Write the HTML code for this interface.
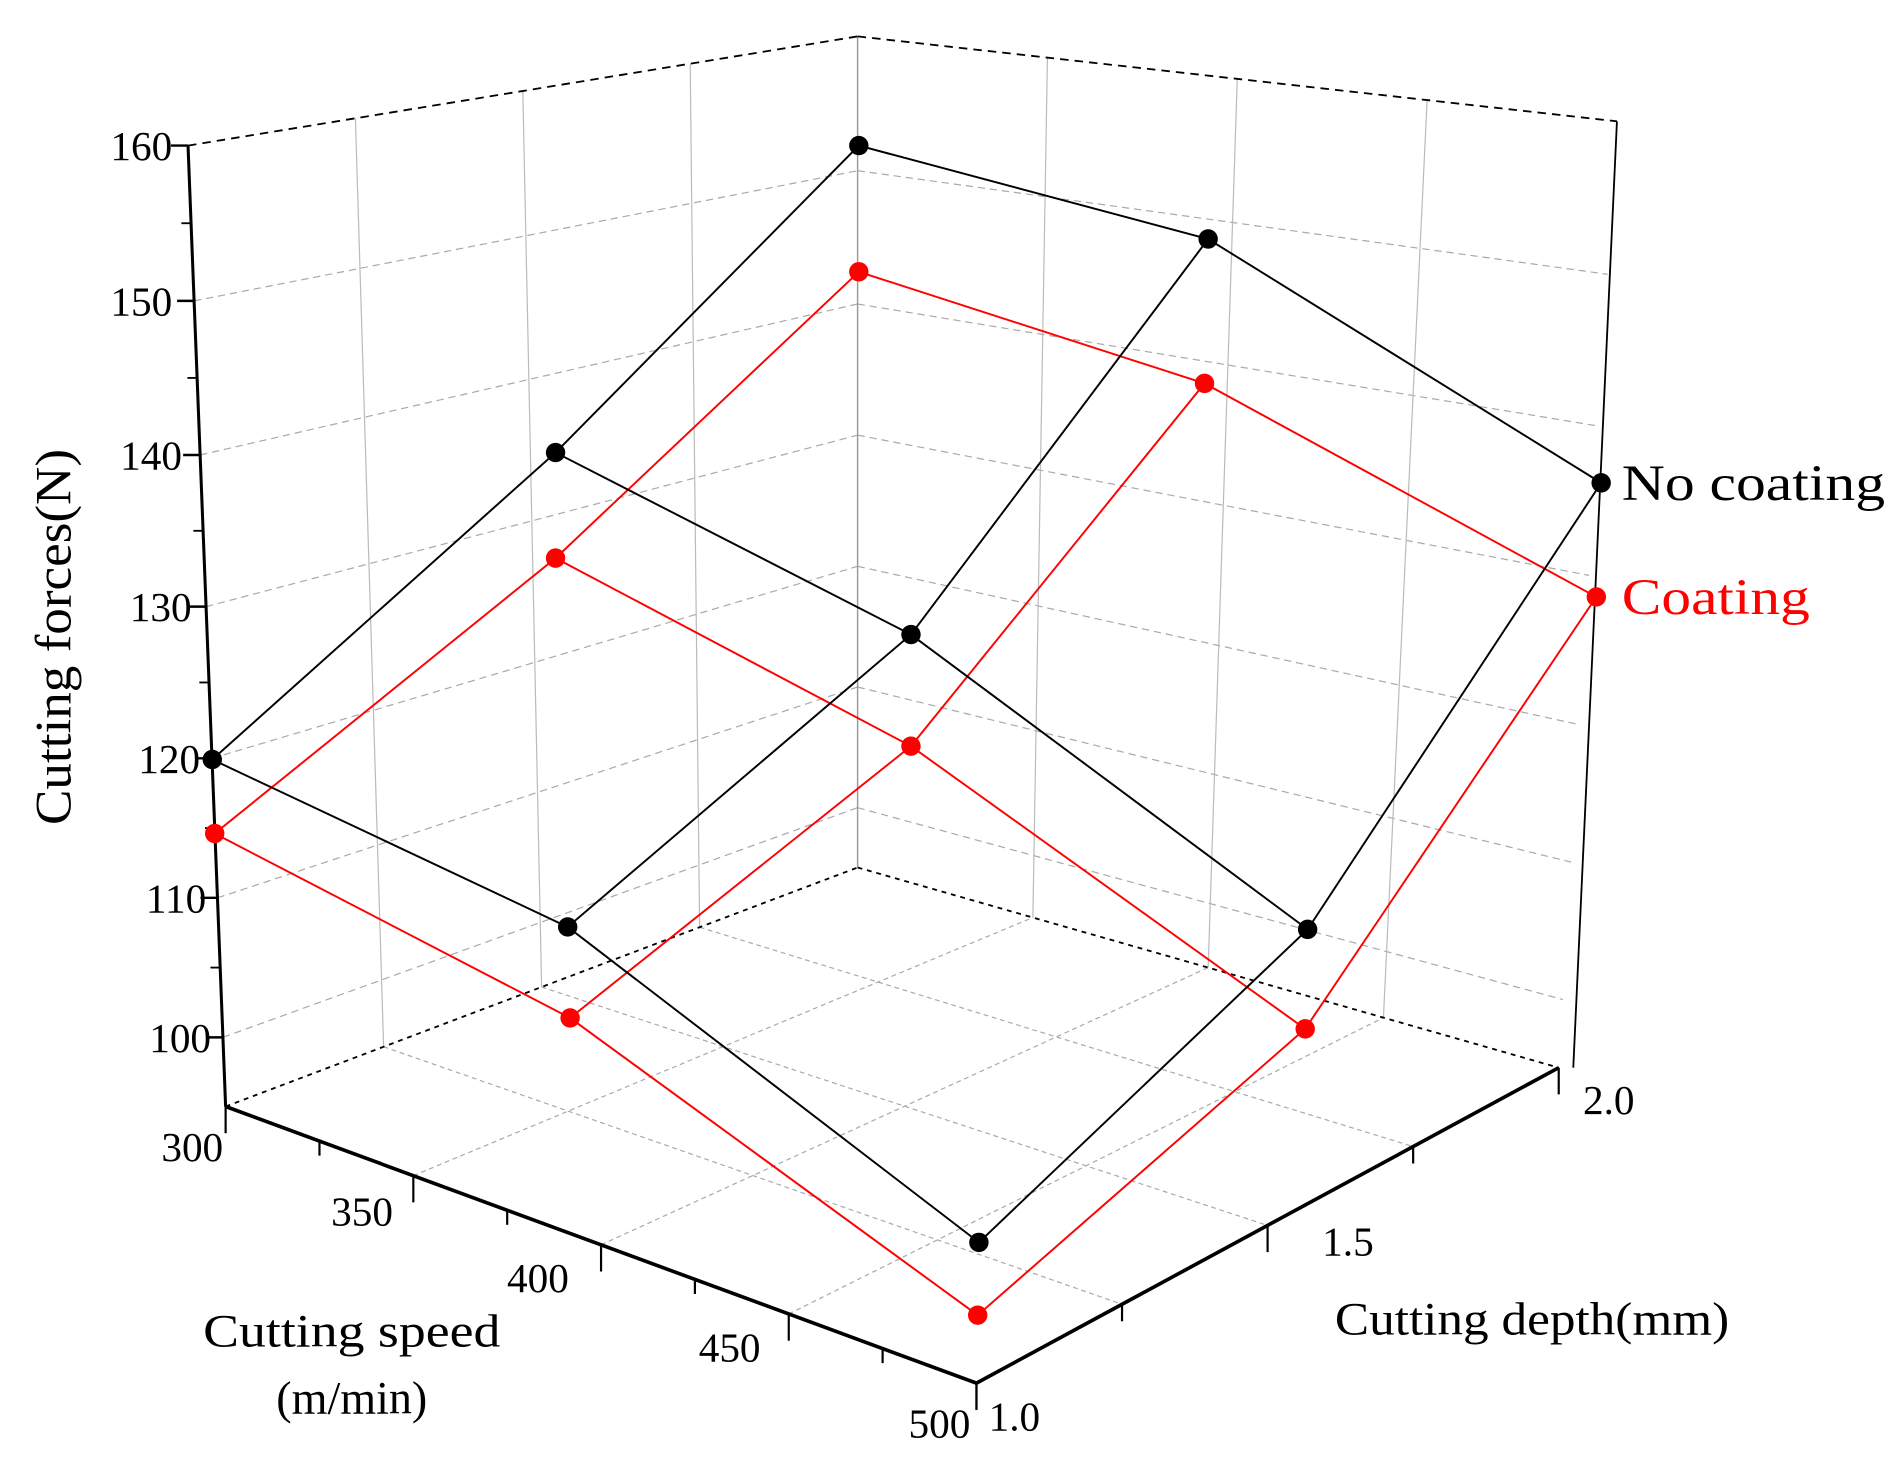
<!DOCTYPE html>
<html><head><meta charset="utf-8"><style>
html,body{margin:0;padding:0;background:#fff;}
svg{display:block;}
text{font-family:"Liberation Serif",serif;}
</style></head><body>
<svg id="s" width="1902" height="1462" viewBox="0 0 1568 1205" preserveAspectRatio="none" xmlns="http://www.w3.org/2000/svg">
<rect width="1568" height="1205" fill="#fff"/>
<g id="grid"></g>
<g id="data"></g>
<g font-size="34" fill="#000">
<text x="142" y="132" text-anchor="end">160</text>
<text x="142" y="260" text-anchor="end">150</text>
<text x="150" y="387" text-anchor="end">140</text>
<text x="158" y="512" text-anchor="end">130</text>
<text x="165" y="637" text-anchor="end">120</text>
<text x="170" y="752" text-anchor="end">110</text>
<text x="174" y="867" text-anchor="end">100</text>
<text x="184" y="957" text-anchor="end">300</text>
<text x="324" y="1010" text-anchor="end">350</text>
<text x="469" y="1065" text-anchor="end">400</text>
<text x="627" y="1122" text-anchor="end">450</text>
<text x="800" y="1185" text-anchor="end">500</text>
<text x="815" y="1179">1.0</text>
<text x="1090" y="1035">1.5</text>
<text x="1305" y="918">2.0</text>
</g>
<g font-size="38" fill="#000">
<text transform="translate(58,525) rotate(-90)" text-anchor="middle" font-size="42" textLength="310" lengthAdjust="spacingAndGlyphs">Cutting forces(N)</text>
<text x="290" y="1110" text-anchor="middle" textLength="245" lengthAdjust="spacingAndGlyphs">Cutting speed</text>
<text x="290" y="1165" text-anchor="middle">(m/min)</text>
<text x="1263" y="1100" text-anchor="middle" textLength="325" lengthAdjust="spacingAndGlyphs">Cutting depth(mm)</text>
<text x="1337" y="412" textLength="217" lengthAdjust="spacingAndGlyphs" font-size="42">No coating</text>
<text x="1337" y="506" textLength="155" lengthAdjust="spacingAndGlyphs" font-size="42" fill="#f00">Coating</text>
</g>
</svg>
<script>
(function(){
var NS="http://www.w3.org/2000/svg";
function L(g,a,b,st,w,da){var e=document.createElementNS(NS,"line");e.setAttribute("x1",a[0]);e.setAttribute("y1",a[1]);e.setAttribute("x2",b[0]);e.setAttribute("y2",b[1]);e.setAttribute("stroke",st);e.setAttribute("stroke-width",w);if(da)e.setAttribute("stroke-dasharray",da);g.appendChild(e);}
function lerp(a,b,t){return [a[0]+(b[0]-a[0])*t,a[1]+(b[1]-a[1])*t];}
var g=document.getElementById("grid"),d=document.getElementById("data");
var O=[186,912],S=[805,1140],SD=[1285,880],D=[707,715];
var LT=[155,120],BT=[707,30],RT=[1333,100];
function floor(s,t){return lerp(lerp(O,D,t),lerp(S,SD,t),s);}
var zy={160:120,150:248,140:375,130:500,120:625,110:740,100:855};
var zs=[155,145,135,125,115,105];
var gc="#aaa";
[0.25,0.5,0.75].forEach(function(s){L(g,floor(s,0),floor(s,1),gc,1,"4,3");});
[0.25,0.5,0.75].forEach(function(t){L(g,floor(0,t),floor(1,t),gc,1,"4,3");});
function lw(t,f){return lerp(lerp(LT,BT,t),lerp(O,D,t),f);}
function rw(t,f){return lerp(lerp(BT,RT,t),lerp(D,SD,t),f);}
[150,140,130,120,110,100].forEach(function(z){var f=(zy[z]-120)/792;
L(g,lw(0,f),lw(1,f),gc,1,"6,4");L(g,rw(0,f),rw(1,f),gc,1,"6,4");});
[0.25,0.5,0.75].forEach(function(t){L(g,lw(t,0),lw(t,1),"#bbb",1);L(g,rw(t,0),rw(t,1),"#bbb",1);});
L(g,BT,D,"#999",1.2);
L(g,LT,BT,"#000",1.5,"7,5");L(g,BT,RT,"#000",1.5,"7,5");
L(g,O,D,"#000",1.5,"4,4");L(g,D,SD,"#000",1.5,"4,4");
L(g,RT,[1297,880],"#000",1.5);
L(g,LT,O,"#000",2.5);
for(var z in zy){var y=zy[z];var x=155+(y-120)/792*31;L(g,[x-14,y],[x,y],"#000",2);}
zs.forEach(function(z){var y=(zy[z-5]+zy[z+5])/2;var x=155+(y-120)/792*31;L(g,[x-8,y],[x,y],"#000",1.5);});
L(g,O,S,"#000",3);L(g,S,SD,"#000",3);
for(var i=0;i<=8;i++){var p=lerp(O,S,i/8);L(g,p,[p[0],p[1]+(i%2?12:22)],"#000",1.8);}
for(var i=0;i<=4;i++){var p=lerp(S,SD,i/4);L(g,p,[p[0],p[1]+(i%2?14:22)],"#000",1.8);}
var blk=[[[175,626],[458,373],[708,120]],[[468,764],[751,523],[996,197]],[[807,1024],[1078,766],[1320,398]]];
var red=[[[177,687],[458,460],[708,224]],[[470,839],[751,615],[993,316]],[[806,1084],[1076,848],[1316,492]]];
function draw(P,c){for(var i=0;i<3;i++)for(var j=0;j<2;j++){L(d,P[i][j],P[i][j+1],c,1.6);L(d,P[j][i],P[j+1][i],c,1.6);}
for(var i=0;i<3;i++)for(var j=0;j<3;j++){var e=document.createElementNS(NS,"circle");e.setAttribute("cx",P[i][j][0]);e.setAttribute("cy",P[i][j][1]);e.setAttribute("r",8);e.setAttribute("fill",c);d.appendChild(e);}}
draw(red,"#f00");draw(blk,"#000");
})();
</script>
</body></html>
